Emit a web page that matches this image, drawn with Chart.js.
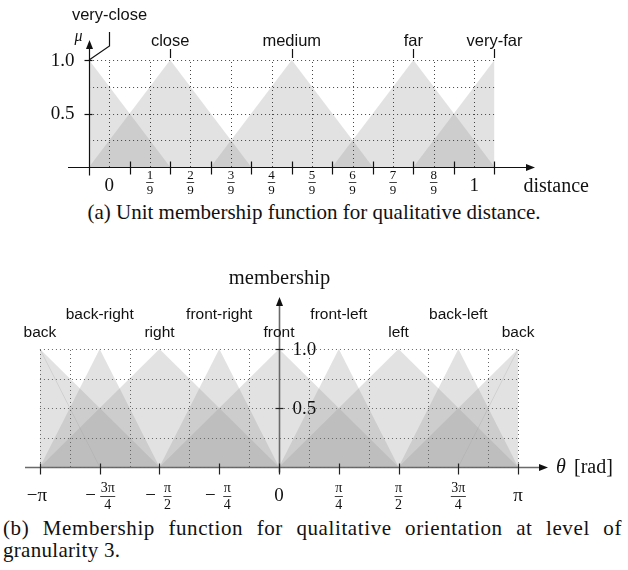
<!DOCTYPE html>
<html>
<head>
<meta charset="utf-8">
<script src="https://cdn.jsdelivr.net/npm/chart.js@4.4.1/dist/chart.umd.min.js"></script>
<style>
  body { margin: 0; background: #fff; width: 628px; height: 570px; position: relative; overflow: hidden; }
  canvas { position: absolute; left: 0; }
  #distChart { top: 0; }
  #angChart { top: 230px; }
  .cap { position: absolute; font-family: "Liberation Serif", serif; font-size: 21px; line-height: 22px; color: #111; white-space: nowrap; }
  #capA { left: 0; width: 628px; top: 201px; text-align: center; }
  #capB1 { left: 3px; width: 619px; top: 517px; text-align: justify; text-align-last: justify; white-space: normal; letter-spacing: 0.6px; }
  #capB2 { left: 3px; top: 539px; letter-spacing: 0.3px; }
</style>
</head>
<body>
<canvas id="distChart" width="628" height="200"></canvas>
<canvas id="angChart" width="628" height="280"></canvas>
<div class="cap" id="capA">(a) Unit membership function for qualitative distance.</div>
<div class="cap" id="capB1">(b) Membership function for qualitative orientation at level of</div>
<div class="cap" id="capB2">granularity 3.</div>
<script>
// (a) distance: x in bin units 0..10
var distNames = ["very-close", "close", "medium", "far", "very-far"];
var distLeft = [0, 0, 3, 6, 8];
var distPeak = [0, 2, 5, 8, 10];
var distRight = [2, 4, 7, 10, 10];
var distTickPos = [0.5, 1.5, 2.5, 3.5, 4.5, 5.5, 6.5, 7.5, 8.5, 9.5];
var distTickText = ["0", "1/9", "2/9", "3/9", "4/9", "5/9", "6/9", "7/9", "8/9", "1"];
var distMarks = [1, 2, 3, 4, 5, 6, 7, 8, 9, 10];
var distGridY = [0.25, 0.5, 0.75, 1.0];

// (b) orientation: x in units of pi/4
var angNames = ["back", "back-right", "right", "front-right", "front", "front-left", "left", "back-left", "back"];
var angPeak = [-4, -3, -2, -1, 0, 1, 2, 3, 4];
var angSpread = [2, 1, 2, 1, 2, 1, 2, 1, 2];
var angTickPos = [-4, -3, -2, -1, 0, 1, 2, 3, 4];
var angTickText = ["−π", "−3π/4", "−π/2", "−π/4", "0", "π/4", "π/2", "3π/4", "π"];
var angGridX = [-4, -3.5, -2.5, -1.5, -0.5, 0.5, 1.5, 2.5, 3.5, 4];
var angGridY = [0.25, 0.5, 0.75, 1.0];
var angFaintFrom = [[-4, 1], [4, 1]];
var angFaintTo = [[-3, 0], [3, 0]];

var FILL = "rgba(150,150,150,0.28)";
var SANS = '"Liberation Sans", Arial, sans-serif';
var SERIF = '"Liberation Serif", serif';

function seg(ctx, x1, y1, x2, y2) {
  ctx.beginPath(); ctx.moveTo(x1, y1); ctx.lineTo(x2, y2); ctx.stroke();
}
function arrow(ctx, x, y, dir) {
  ctx.beginPath();
  if (dir === "right") { ctx.moveTo(x, y); ctx.lineTo(x - 9, y - 3.5); ctx.lineTo(x - 9, y + 3.5); }
  else { ctx.moveTo(x, y); ctx.lineTo(x - 3.5, y + 9); ctx.lineTo(x + 3.5, y + 9); }
  ctx.closePath(); ctx.fill();
}
function frac(ctx, cx, cy, num, den, size) {
  ctx.font = size + "px " + SERIF;
  ctx.textAlign = "center"; ctx.textBaseline = "middle";
  ctx.fillText(num, cx, cy - size * 0.55);
  ctx.fillText(den, cx, cy + size * 0.6);
  var w = Math.max(ctx.measureText(num).width, ctx.measureText(den).width) + 1;
  ctx.fillRect(cx - w / 2, cy - 0.4, w, 0.8);
}
function baseOpts(xmin, xmax, ymax, pad) {
  return {
    responsive: false, animation: false,
    layout: { padding: pad },
    plugins: { legend: { display: false }, tooltip: { enabled: false } },
    elements: { point: { radius: 0 }, line: { tension: 0 } },
    scales: {
      x: { type: "linear", min: xmin, max: xmax, display: false },
      y: { type: "linear", min: 0, max: ymax, display: false }
    }
  };
}

// ---------- chart (a)
var distSets = distNames.map(function (n, i) {
  return {
    label: n,
    data: [{ x: distLeft[i], y: 0 }, { x: distPeak[i], y: 1 }, { x: distRight[i], y: 0 }],
    fill: "origin", backgroundColor: FILL, borderWidth: 0
  };
});

var decorA = {
  id: "decorA",
  afterDatasetsDraw: function (chart) {
    var ctx = chart.ctx, x = chart.scales.x, y = chart.scales.y;
    var x0 = x.getPixelForValue(0), x10 = x.getPixelForValue(10);
    var y0 = y.getPixelForValue(0), y1 = y.getPixelForValue(1);
    ctx.save();
    // dotted grid
    ctx.strokeStyle = "#444"; ctx.lineWidth = 1; ctx.setLineDash([1, 3]);
    distTickPos.forEach(function (v) {
      var px = Math.round(x.getPixelForValue(v)) + 0.5;
      seg(ctx, px, y0, px, y1);
    });
    distGridY.forEach(function (v) {
      var py = Math.round(y.getPixelForValue(v)) + 0.5;
      seg(ctx, x0, py, x10, py);
    });
    ctx.setLineDash([]);
    // axes
    ctx.strokeStyle = "#111"; ctx.fillStyle = "#111"; ctx.lineWidth = 1.2;
    var ax = Math.round(x0) + 0.5, ay = Math.round(y0) + 0.5;
    seg(ctx, chart.chartArea.left, ay, chart.chartArea.right - 6, ay);
    arrow(ctx, chart.chartArea.right, ay, "right");
    seg(ctx, ax, ay + 8, ax, chart.chartArea.top + 6);
    arrow(ctx, ax, chart.chartArea.top, "up");
    distMarks.forEach(function (v) {
      var px = Math.round(x.getPixelForValue(v)) + 0.5;
      seg(ctx, px, ay - 6, px, ay + 7);
    });
    [0.5, 1.0].forEach(function (v) {
      var py = Math.round(y.getPixelForValue(v)) + 0.5;
      seg(ctx, ax - 5, py, ax + 3, py);
    });
    // y tick labels
    ctx.font = "19px " + SERIF; ctx.textAlign = "right"; ctx.textBaseline = "middle";
    ctx.fillText("1.0", ax - 15, y.getPixelForValue(1) + 1);
    ctx.fillText("0.5", ax - 15, y.getPixelForValue(0.5) + 1);
    ctx.font = "italic 16px " + SERIF; ctx.textAlign = "center";
    ctx.fillText("μ", ax - 11, chart.chartArea.top - 3);
    // x tick labels
    distTickText.forEach(function (t, i) {
      var px = x.getPixelForValue(distTickPos[i]);
      if (t.indexOf("/") >= 0) {
        var p = t.split("/");
        frac(ctx, px, ay + 15, p[0], p[1], 13);
      } else {
        ctx.font = "19px " + SERIF; ctx.textAlign = "center"; ctx.textBaseline = "middle";
        ctx.fillText(t, px, ay + 19);
      }
    });
    ctx.font = "20px " + SERIF; ctx.textAlign = "left"; ctx.textBaseline = "middle";
    ctx.fillText("distance", x10 + 29, ay + 19);
    // name labels
    ctx.font = "16.5px " + SANS; ctx.textAlign = "center"; ctx.textBaseline = "middle";
    ctx.lineWidth = 1.2;
    distNames.forEach(function (n, i) {
      var px = x.getPixelForValue(distPeak[i]);
      if (i === 0) {
        var lx = Math.round(x.getPixelForValue(0.5)) + 0.5;
        ctx.beginPath();
        ctx.moveTo(px, y1); ctx.lineTo(lx, y1 - 14); ctx.lineTo(lx, y1 - 28);
        ctx.stroke();
        ctx.fillText(n, lx, y1 - 45);
      } else {
        var sx = Math.round(px) + 0.5;
        seg(ctx, sx, y1 - 2, sx, y1 - 11);
        ctx.fillText(n, px, y1 - 19);
      }
    });
    ctx.restore();
  }
};

new Chart(document.getElementById("distChart"), {
  type: "line",
  data: { datasets: distSets },
  options: baseOpts(-0.52, 11.0, 1.187, { left: 68, right: 93, top: 40, bottom: 33 }),
  plugins: [decorA]
});

// ---------- chart (b)
var angSets = angNames.map(function (n, i) {
  var p = angPeak[i], w = angSpread[i];
  var pts = [[p - w, 0], [p, 1], [p + w, 0]].filter(function (q) { return q[0] >= -4 && q[0] <= 4; });
  return {
    label: n,
    data: pts.map(function (q) { return { x: q[0], y: q[1] }; }),
    fill: "origin", backgroundColor: FILL, borderWidth: 0
  };
});
angFaintFrom.forEach(function (a, i) {
  angSets.push({
    label: "edge" + i,
    data: [{ x: a[0], y: a[1] }, { x: angFaintTo[i][0], y: angFaintTo[i][1] }],
    fill: false, borderColor: "rgba(0,0,0,0.10)", borderWidth: 1
  });
});

var decorB = {
  id: "decorB",
  afterDatasetsDraw: function (chart) {
    var ctx = chart.ctx, x = chart.scales.x, y = chart.scales.y;
    var xl = x.getPixelForValue(-4), xr = x.getPixelForValue(4);
    var y0 = y.getPixelForValue(0), y1 = y.getPixelForValue(1);
    var ax = Math.round(x.getPixelForValue(0)) + 0.5, ay = Math.round(y0) + 0.5;
    ctx.save();
    // axes (grey)
    ctx.strokeStyle = "#6a6a6a"; ctx.lineWidth = 1.6;
    seg(ctx, chart.chartArea.left, ay, chart.chartArea.right - 6, ay);
    seg(ctx, ax, ay + 5, ax, chart.chartArea.top + 6);
    ctx.fillStyle = "#111";
    arrow(ctx, chart.chartArea.right, ay, "right");
    arrow(ctx, ax, chart.chartArea.top, "up");
    // dotted grid
    ctx.strokeStyle = "#666"; ctx.lineWidth = 1; ctx.setLineDash([1, 3]);
    angGridX.forEach(function (v) {
      var px = Math.round(x.getPixelForValue(v)) + 0.5;
      seg(ctx, px, y0, px, y1);
    });
    [0].concat(angGridY).forEach(function (v) {
      var py = Math.round(y.getPixelForValue(v)) + 0.5;
      seg(ctx, xl, py, xr, py);
    });
    ctx.setLineDash([]);
    // ticks
    ctx.strokeStyle = "#222"; ctx.lineWidth = 1.2;
    angTickPos.forEach(function (v) {
      var px = Math.round(x.getPixelForValue(v)) + 0.5;
      seg(ctx, px, ay - 4, px, ay + 7);
    });
    [0.5, 1.0].forEach(function (v) {
      var py = Math.round(y.getPixelForValue(v)) + 0.5;
      seg(ctx, ax - 4, py, ax + 4, py);
    });
    // y tick labels
    ctx.fillStyle = "#111";
    ctx.font = "19px " + SERIF; ctx.textAlign = "left"; ctx.textBaseline = "middle";
    ctx.fillText("1.0", ax + 13, y.getPixelForValue(1) + 1);
    ctx.fillText("0.5", ax + 13, y.getPixelForValue(0.5) + 1);
    ctx.font = "20.5px " + SERIF; ctx.textAlign = "center";
    ctx.fillText("membership", ax, chart.chartArea.top - 18);
    ctx.textAlign = "left";
    ctx.font = "italic 20px " + SERIF;
    ctx.fillText("θ", chart.chartArea.right + 8, ay);
    ctx.font = "20px " + SERIF;
    ctx.fillText("[rad]", chart.chartArea.right + 26, ay);
    // x tick labels
    angTickText.forEach(function (t, i) {
      var px = x.getPixelForValue(angTickPos[i]);
      var neg = t.charAt(0) === "−";
      var body = neg ? t.slice(1) : t;
      ctx.textBaseline = "middle"; ctx.textAlign = "center";
      if (body.indexOf("/") >= 0) {
        var p = body.split("/");
        var fx = neg ? px + 8 : px;
        if (neg) { ctx.font = "19px " + SERIF; ctx.fillText("−", px - 9, ay + 29); }
        frac(ctx, fx, ay + 29, p[0], p[1], 14);
      } else {
        ctx.font = "19px " + SERIF;
        ctx.fillText(t, px - (neg ? 3 : 0), ay + 29);
      }
    });
    // name labels
    ctx.font = "15.5px " + SANS; ctx.textAlign = "center"; ctx.textBaseline = "middle";
    angNames.forEach(function (n, i) {
      var px = x.getPixelForValue(angPeak[i]);
      var off = angSpread[i] === 2 ? 16 : 34;
      ctx.fillText(n, px, y1 - off);
    });
    ctx.restore();
  }
};

new Chart(document.getElementById("angChart"), {
  type: "line",
  data: { datasets: angSets },
  options: baseOpts(-4.25, 4.5, 1.4407, { left: 25, right: 80, top: 67, bottom: 43 }),
  plugins: [decorB]
});
</script>
</body>
</html>
